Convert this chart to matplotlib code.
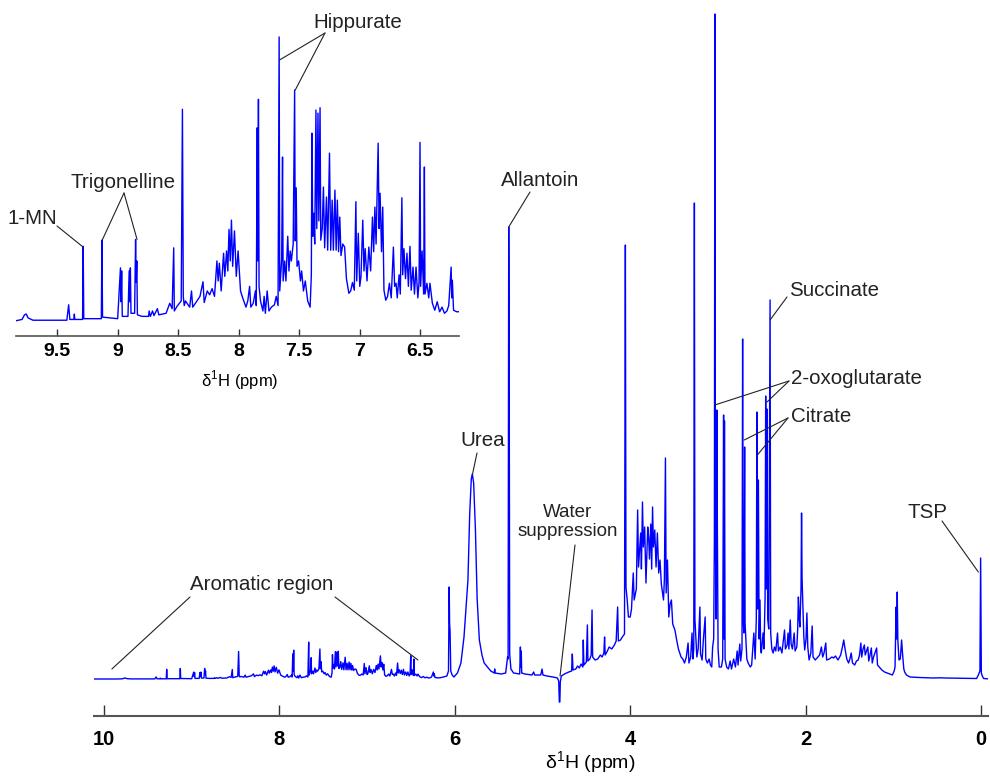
import matplotlib.pyplot as plt

# 1H NMR spectrum of urine as (ppm, intensity) vertices.
# intensity is in arbitrary units (0 = baseline)
aromatic = [
    (10.12, 0.0), (9.85, 0.0), (9.79, 0.2), (9.77, 0.8), (9.755, 0.9), (9.74, 0.4), (9.70, 0.1),
    (9.42, 0.1), (9.405, 2.1), (9.395, 0.2), (9.362, 0.2), (9.358, 0.9), (9.354, 0.2),
    (9.29, 0.2), (9.285, 9.7), (9.28, 0.3), (9.135, 0.3), (9.13, 10.5), (9.125, 0.5),
    (9.0, 0.3), (8.977, 6.9), (8.972, 2.5), (8.967, 6.5), (8.962, 0.6), (8.915, 0.6),
    (8.905, 6.5), (8.90, 2.5), (8.895, 6.9), (8.89, 1.0), (8.86, 1.0), (8.852, 10.6),
    (8.847, 5.0), (8.842, 7.8), (8.837, 0.8), (8.80, 0.6), (8.745, 0.6), (8.74, 1.3),
    (8.73, 0.6), (8.712, 1.3), (8.70, 0.7), (8.672, 1.6), (8.66, 0.8), (8.60, 1.0),
    (8.57, 2.3), (8.55, 1.6), (8.537, 9.5), (8.532, 1.3), (8.51, 1.9), (8.475, 2.6),
    (8.465, 27.5), (8.458, 3.2), (8.45, 2.0), (8.44, 2.6), (8.405, 1.8), (8.39, 3.9),
    (8.38, 1.8), (8.345, 2.6), (8.32, 3.2), (8.295, 5.1), (8.285, 2.4), (8.26, 3.9),
    (8.24, 3.4), (8.22, 4.2), (8.20, 3.2), (8.18, 7.8), (8.17, 5.2), (8.16, 7.5),
    (8.145, 3.9), (8.125, 8.8), (8.115, 5.8), (8.10, 9.1), (8.09, 6.5), (8.08, 11.9),
    (8.07, 7.8), (8.06, 13.1), (8.05, 7.1), (8.035, 11.7), (8.02, 5.8), (8.005, 9.1),
    (7.985, 3.9), (7.965, 2.9), (7.94, 1.8), (7.925, 2.6), (7.91, 4.5), (7.90, 1.8),
    (7.88, 2.3), (7.862, 3.9), (7.855, 2.0), (7.847, 25.1), (7.842, 7.8), (7.837, 28.8),
    (7.832, 4.5), (7.82, 2.6), (7.80, 1.3), (7.79, 3.2), (7.78, 1.0), (7.765, 3.9),
    (7.75, 1.3), (7.73, 1.8), (7.705, 2.1), (7.69, 3.2), (7.675, 2.0), (7.666, 36.9),
    (7.661, 3.9), (7.645, 8.0), (7.638, 21.3), (7.633, 5.2), (7.62, 7.8), (7.61, 5.2),
    (7.595, 11.0), (7.585, 6.5), (7.575, 9.1), (7.565, 7.8), (7.55, 10.0), (7.538, 30.0),
    (7.533, 10.4), (7.525, 17.3), (7.518, 7.1), (7.505, 7.8), (7.49, 5.2), (7.48, 6.5),
    (7.465, 3.9), (7.45, 5.2), (7.43, 2.6), (7.41, 1.8), (7.40, 6.0), (7.395, 24.4),
    (7.388, 11.0), (7.38, 14.0), (7.372, 10.0), (7.362, 27.4), (7.355, 12.0), (7.345, 27.0),
    (7.338, 13.0), (7.328, 27.7), (7.322, 10.5), (7.31, 12.0), (7.30, 17.4), (7.29, 9.5),
    (7.275, 16.1), (7.265, 9.2), (7.25, 21.8), (7.24, 9.2), (7.228, 15.7), (7.218, 9.2),
    (7.205, 17.0), (7.195, 9.2), (7.185, 15.7), (7.175, 9.0), (7.165, 13.5), (7.155, 8.5),
    (7.14, 10.0), (7.125, 9.6), (7.11, 5.5), (7.09, 3.6), (7.075, 3.9), (7.06, 5.0),
    (7.045, 4.0), (7.032, 15.5), (7.025, 5.2), (7.012, 11.4), (7.0, 4.5), (6.99, 5.7),
    (6.975, 13.1), (6.965, 6.5), (6.955, 9.4), (6.94, 5.2), (6.925, 9.6), (6.91, 6.5),
    (6.895, 13.5), (6.885, 9.0), (6.875, 14.8), (6.865, 10.0), (6.848, 23.1), (6.84, 12.0),
    (6.832, 16.6), (6.82, 9.0), (6.81, 14.8), (6.80, 4.0), (6.785, 2.7), (6.77, 3.2),
    (6.755, 4.9), (6.74, 3.0), (6.722, 9.6), (6.712, 4.5), (6.70, 4.9), (6.69, 3.0),
    (6.675, 6.0), (6.665, 3.5), (6.652, 16.0), (6.645, 6.0), (6.635, 9.4), (6.622, 5.5),
    (6.61, 8.8), (6.598, 4.5), (6.585, 9.7), (6.575, 4.0), (6.56, 7.0), (6.548, 3.5),
    (6.535, 7.0), (6.52, 3.0), (6.51, 5.0), (6.502, 23.2), (6.497, 4.5), (6.485, 9.1),
    (6.472, 3.5), (6.466, 20.0), (6.461, 3.5), (6.445, 4.9), (6.43, 3.0), (6.42, 4.9),
    (6.40, 2.3), (6.38, 1.4), (6.36, 2.5), (6.34, 1.2), (6.32, 1.8), (6.30, 1.0),
    (6.28, 1.3), (6.265, 2.0), (6.255, 4.5), (6.245, 7.0), (6.24, 3.0), (6.235, 5.3),
    (6.225, 1.4), (6.20, 1.2),
]

middle = [
    (6.17, 1.2), (6.13, 2.0), (6.09, 3.0), (6.072, 8), (6.064, 92), (6.059, 55), (6.054, 48),
    (6.046, 8), (6.03, 4), (6.01, 2), (5.97, 6), (5.93, 16), (5.895, 42), (5.85, 99),
    (5.83, 165), (5.812, 200), (5.80, 205), (5.785, 196), (5.765, 150), (5.745, 80),
    (5.72, 39), (5.69, 24), (5.665, 16), (5.59, 8), (5.55, 6), (5.545, 10), (5.54, 6),
    (5.47, 5), (5.42, 6), (5.398, 22), (5.392, 20), (5.385, 452), (5.38, 330), (5.374, 25),
    (5.36, 10), (5.33, 6), (5.26, 5), (5.252, 32), (5.247, 12), (5.242, 28), (5.237, 6),
    (5.20, 5), (5.12, 4), (5.10, 7), (5.09, 4), (5.02, 4), (5.005, 10), (4.995, 4),
    (4.95, 3), (4.88, 2), (4.83, 1), (4.815, -2), (4.808, -23), (4.802, -23), (4.797, -3),
    (4.785, 3), (4.75, 5), (4.70, 7), (4.668, 8), (4.66, 25), (4.652, 9), (4.62, 10),
    (4.60, 13), (4.58, 11), (4.56, 15), (4.54, 12), (4.535, 39), (4.528, 14), (4.50, 17),
    (4.488, 54), (4.482, 18), (4.46, 20), (4.445, 24), (4.435, 69), (4.428, 22), (4.40, 19),
    (4.37, 20), (4.34, 24), (4.32, 22), (4.30, 26), (4.292, 42), (4.285, 24), (4.26, 28),
]

aliphatic = [
    (4.24, 32), (4.21, 30), (4.18, 34), (4.16, 38), (4.143, 72), (4.135, 38), (4.11, 39),
    (4.09, 42), (4.065, 45), (4.055, 434), (4.048, 92), (4.035, 80), (4.02, 62), (4.00, 62),
    (3.985, 70), (3.965, 106), (3.955, 79), (3.93, 90), (3.915, 169), (3.905, 112),
    (3.88, 146), (3.872, 110), (3.86, 177), (3.85, 132), (3.835, 152), (3.82, 96),
    (3.80, 152), (3.79, 142), (3.78, 120), (3.765, 155), (3.755, 110), (3.745, 172),
    (3.735, 132), (3.72, 149), (3.705, 112), (3.69, 146), (3.675, 106), (3.66, 119),
    (3.645, 95), (3.62, 79), (3.61, 100), (3.598, 221), (3.59, 86), (3.575, 119),
    (3.56, 62), (3.545, 75), (3.53, 79), (3.515, 55), (3.49, 49), (3.47, 39), (3.45, 30),
    (3.42, 22), (3.40, 20), (3.38, 16), (3.36, 22), (3.34, 36), (3.33, 16), (3.31, 22),
    (3.295, 46), (3.285, 20), (3.275, 30), (3.268, 476), (3.262, 60), (3.25, 39),
    (3.24, 22), (3.225, 30), (3.205, 72), (3.198, 25), (3.18, 19), (3.165, 40),
    (3.145, 62), (3.138, 20), (3.12, 16), (3.10, 20), (3.085, 14), (3.07, 12), (3.06, 32),
    (3.048, 40), (3.04, 140), (3.034, 665), (3.028, 150), (3.02, 60), (3.012, 269),
    (3.006, 152), (2.998, 30), (2.985, 12), (2.96, 12), (2.945, 20), (2.935, 264),
    (2.93, 40), (2.925, 258), (2.918, 20), (2.90, 12), (2.88, 10), (2.86, 18), (2.845, 10),
    (2.82, 20), (2.80, 12), (2.78, 28), (2.77, 14), (2.75, 35), (2.74, 18), (2.725, 30),
    (2.718, 340), (2.712, 60), (2.703, 46), (2.695, 232), (2.69, 56), (2.67, 20),
    (2.655, 16), (2.63, 12), (2.615, 14), (2.59, 46), (2.575, 20), (2.562, 60),
    (2.555, 267), (2.548, 70), (2.538, 199), (2.53, 40), (2.52, 79), (2.512, 30),
    (2.505, 26), (2.485, 46), (2.475, 30), (2.462, 80), (2.455, 283), (2.448, 90),
    (2.44, 270), (2.432, 60), (2.42, 50), (2.405, 379), (2.398, 46), (2.385, 30),
    (2.37, 26), (2.355, 32), (2.34, 28), (2.32, 46), (2.31, 28), (2.29, 32), (2.27, 26),
    (2.255, 38), (2.24, 49), (2.23, 30), (2.21, 34), (2.20, 46), (2.19, 30), (2.175, 59),
    (2.165, 35), (2.15, 30), (2.13, 46), (2.12, 28), (2.10, 32), (2.09, 50), (2.082, 82),
    (2.072, 60), (2.065, 52), (2.052, 90), (2.046, 166), (2.04, 100), (2.03, 72),
    (2.02, 42), (2.01, 29), (1.995, 40), (1.985, 66), (1.975, 32), (1.96, 19), (1.94, 26),
    (1.925, 53), (1.915, 22), (1.89, 19), (1.86, 22), (1.84, 24), (1.82, 32), (1.805, 22),
    (1.79, 26), (1.77, 36), (1.76, 19), (1.73, 20), (1.70, 22), (1.68, 21), (1.66, 23),
    (1.63, 19), (1.60, 24), (1.58, 32), (1.565, 39), (1.55, 30), (1.53, 20), (1.51, 16),
    (1.495, 20), (1.48, 26), (1.465, 16), (1.44, 14), (1.42, 18), (1.40, 19), (1.385, 24),
    (1.37, 36), (1.36, 22), (1.345, 30), (1.33, 34), (1.32, 24), (1.305, 28), (1.29, 32),
    (1.28, 18), (1.265, 24), (1.25, 31), (1.24, 16), (1.225, 22), (1.21, 26), (1.19, 31),
    (1.18, 14), (1.16, 12), (1.13, 9), (1.10, 7), (1.07, 6), (1.04, 5), (1.01, 4),
    (0.99, 8), (0.98, 12), (0.968, 72), (0.962, 40), (0.955, 87), (0.948, 39), (0.935, 19),
    (0.92, 20), (0.905, 39), (0.895, 26), (0.88, 10), (0.87, 7), (0.85, 4), (0.81, 2),
    (0.70, 1.5), (0.55, 1), (0.47, 1.2), (0.40, 1), (0.25, 0.8), (0.10, 0.6), (0.05, 0.5),
    (0.03, 4), (0.012, 8), (0.004, 121), (-0.004, 6), (-0.015, 3), (-0.03, 0.5), (-0.1, 0),
]

main_ticks = [10, 8, 6, 4, 2, 0]
inset_ticks = [9.5, 9, 8.5, 8, 7.5, 7, 6.5]
inset_tick_labels = ['9.5', '9', '8.5', '8', '7.5', '7', '6.5']

spectrum = aromatic + middle + aliphatic
ppm = [p for p, _ in spectrum]
intensity = [v for _, v in spectrum]

plt.rcParams['mathtext.fontset'] = 'custom'
plt.rcParams['mathtext.rm'] = 'Liberation Sans'

W, H = 990, 780
def fp(x, y):
    # pixel position (origin top-left) -> figure fraction
    return (x / W, 1 - y / H)

font = 'Liberation Sans'
fig = plt.figure(figsize=(9.9, 7.8), dpi=100)

# main spectrum
ax = fig.add_axes([94 / W, 1 - 716 / H, (988 - 94) / W, 716 / H])
ax.patch.set_alpha(0)
ax.plot(ppm, intensity, color='#0000ff', lw=1.0)
ax.set_xlim(10.114, -0.08)
ax.set_ylim(-37, 679)
for s in ['left', 'right', 'top']:
    ax.spines[s].set_visible(False)
ax.spines['bottom'].set_color('#555555')
ax.spines['bottom'].set_linewidth(1.5)
ax.set_yticks([])
ax.set_xticks(main_ticks)
ax.set_xticklabels([str(t) for t in main_ticks], fontweight='bold', family=font, fontsize=14.5)
ax.tick_params(axis='x', direction='in', length=8, width=1, color='#333333', pad=10)
fig.text(590 / W, 1 - 763 / H, 'δ$^{1}$H (ppm)', ha='center', va='center',
         family=font, fontsize=14)

# inset: aromatic region
ax2 = fig.add_axes([16 / W, 1 - 336 / H, (459 - 16) / W, (336 - 30) / H])
ax2.patch.set_alpha(0)
ax2.plot(ppm, intensity, color='#0000ff', lw=1.0)
ax2.set_xlim(9.84, 6.18)
ax2.set_ylim(-1.95, 37.8)
for s in ['left', 'right', 'top']:
    ax2.spines[s].set_visible(False)
ax2.spines['bottom'].set_color('#555555')
ax2.spines['bottom'].set_linewidth(1.2)
ax2.set_yticks([])
ax2.set_xticks(inset_ticks)
ax2.set_xticklabels(inset_tick_labels, fontweight='bold', family=font, fontsize=14)
ax2.tick_params(axis='x', direction='in', length=5, width=1, color='#333333', pad=5)
fig.text(240 / W, 1 - 380 / H, 'δ$^{1}$H (ppm)', ha='center', va='center',
         family=font, fontsize=12)

def label(text, x, y, size=14.8, ha='center'):
    fig.text(x / W, 1 - y / H, text, ha=ha, va='center', family=font,
             fontsize=size, color='#222222', linespacing=1.1)

def leader(axis, start, end):
    axis.annotate('', xy=end, xycoords='data', xytext=fp(*start),
                  textcoords='figure fraction',
                  arrowprops=dict(arrowstyle='-', color='#222222', lw=0.8,
                                  shrinkA=0, shrinkB=0))

# inset labels
label('Hippurate', 358, 22)
leader(ax2, (325, 33), (7.663, 33.9))
leader(ax2, (325, 33), (7.533, 30.0))
label('Trigonelline', 123, 182)
leader(ax2, (124, 193), (9.128, 10.5))
leader(ax2, (124, 193), (8.84, 10.6))
label('1-MN', 32, 218)
leader(ax2, (57, 226), (9.285, 9.6))

# main labels
label('Allantoin', 540, 180)
leader(ax, (530, 192), (5.385, 452))
label('Urea', 483, 441)
leader(ax, (477, 453), (5.80, 204))
label('Water\nsuppression', 568, 522, size=13.5)
leader(ax, (575, 545), (4.80, 3))
label('Aromatic region', 262, 585)
leader(ax, (190, 597), (9.91, 10))
leader(ax, (335, 597), (6.42, 19))
label('Succinate', 789, 290, ha='left')
leader(ax, (787, 297), (2.405, 359))
label('2-oxoglutarate', 791, 378, ha='left')
leader(ax, (789, 381), (3.035, 274))
leader(ax, (789, 381), (2.44, 277))
label('Citrate', 791, 416, ha='left')
leader(ax, (788, 418), (2.70, 239))
leader(ax, (788, 418), (2.55, 224))
label('TSP', 927, 513)
leader(ax, (942, 521), (0.03, 107))

fig.savefig('out.png', dpi=100)
